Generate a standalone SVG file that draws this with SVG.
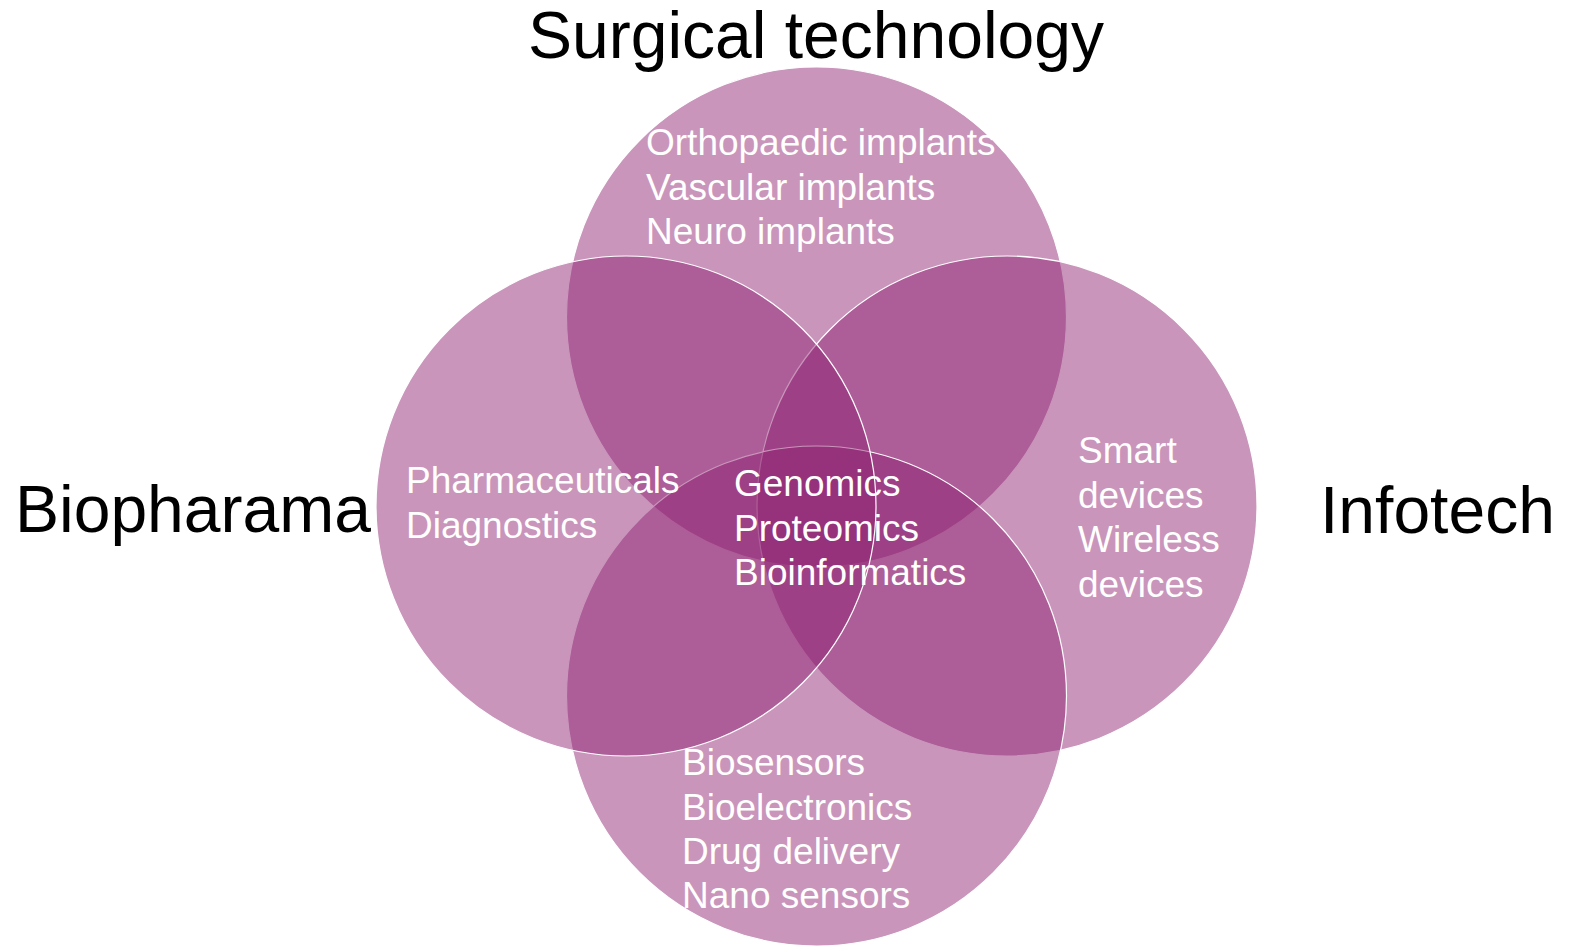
<svg xmlns="http://www.w3.org/2000/svg" width="1572" height="947" viewBox="0 0 1572 947">
<style>
.c{fill:#8F2170;fill-opacity:0.48;stroke:#ffffff;stroke-width:1.2}
.t{font-family:"Liberation Sans",Arial,sans-serif;font-size:37px;fill:#ffffff}
.h{font-family:"Liberation Sans",Arial,sans-serif;font-size:66px;fill:#000000}
</style>
<rect width="1572" height="947" fill="#ffffff"/>
<g id="circle-top"><circle class="c" cx="816.5" cy="317" r="250"/></g>
<g id="circle-right"><circle class="c" cx="1007" cy="506" r="250"/></g>
<g id="circle-bottom"><circle class="c" cx="816.5" cy="696" r="250"/></g>
<g id="circle-left"><circle class="c" cx="626" cy="506" r="250"/></g>
<g id="labels">
<text class="h" x="816" y="58" text-anchor="middle">Surgical technology</text>
<text class="h" x="15" y="532">Biopharama</text>
<text class="h" x="1320" y="533">Infotech</text>
</g>
<g id="top-items">
<text class="t" x="646" y="155">Orthopaedic implants</text>
<text class="t" x="646" y="199.5">Vascular implants</text>
<text class="t" x="646" y="244">Neuro implants</text>
</g>
<g id="left-items">
<text class="t" x="406" y="493">Pharmaceuticals</text>
<text class="t" x="406" y="537.5">Diagnostics</text>
</g>
<g id="center-items">
<text class="t" x="734" y="496">Genomics</text>
<text class="t" x="734" y="540.5">Proteomics</text>
<text class="t" x="734" y="585">Bioinformatics</text>
</g>
<g id="right-items">
<text class="t" x="1078" y="463">Smart</text>
<text class="t" x="1078" y="507.5">devices</text>
<text class="t" x="1078" y="552">Wireless</text>
<text class="t" x="1078" y="596.5">devices</text>
</g>
<g id="bottom-items">
<text class="t" x="682" y="775">Biosensors</text>
<text class="t" x="682" y="819.5">Bioelectronics</text>
<text class="t" x="682" y="864">Drug delivery</text>
<text class="t" x="682" y="908">Nano sensors</text>
</g>
</svg>
